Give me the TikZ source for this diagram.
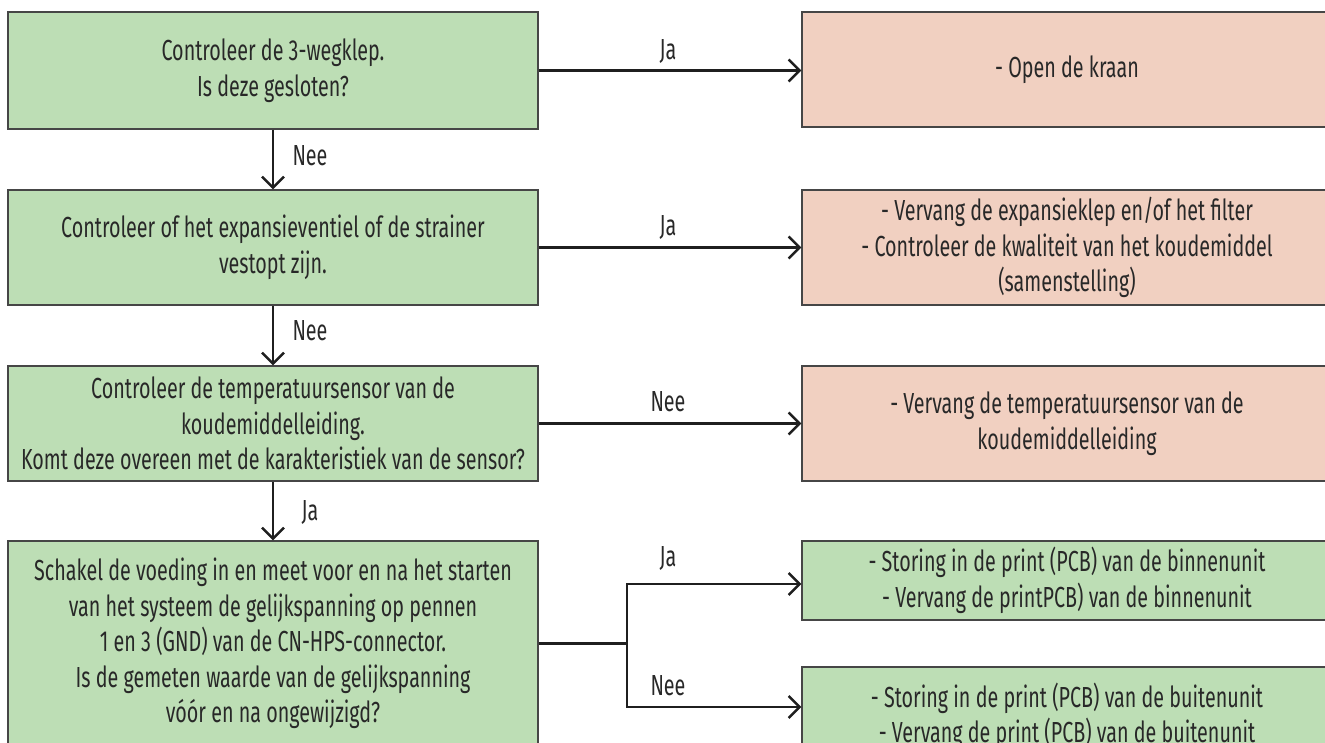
\documentclass[tikz,border=0pt]{standalone}
\usepackage{fontspec}
\setmainfont{Fira Sans}[FakeStretch=0.68]
\usetikzlibrary{arrows.meta}
\definecolor{boxgreen}{RGB}{189,222,181}
\definecolor{boxsalmon}{RGB}{241,208,193}
\definecolor{edgegray}{RGB}{70,70,70}
\definecolor{txt}{RGB}{40,40,40}
\begin{document}
\begin{tikzpicture}[x=1pt,y=-1pt,
  box/.style={draw=edgegray, line width=1.3pt, align=center, inner sep=0pt, text=txt,
              font=\fontsize{29}{35.5}\selectfont},
  greenbox/.style={box, fill=boxgreen},
  redbox/.style={box, fill=boxsalmon},
  link/.style={line width=2.4pt, draw=black!88},
  conn/.style={link, -{Straight Barb[length=11pt,width=22pt]}},
  lbl/.style={text=txt, font=\fontsize{29}{35.5}\selectfont, inner sep=0pt}
]
\useasboundingbox (0,0) rectangle (1325,742);
\clip (0,0) rectangle (1325,742);

% left column
\node[greenbox, minimum width=530pt, minimum height=117pt] (b1) at (273,70.5)
  {Controleer de 3-wegklep.\\Is deze gesloten?};
\node[greenbox, minimum width=530pt, minimum height=115pt] (b2) at (273,247.5)
  {Controleer of het expansieventiel of de strainer\\vestopt zijn.};
\node[greenbox, minimum width=530pt, minimum height=115pt] (b3) at (273,423.5)
  {Controleer de temperatuursensor van de\\koudemiddelleiding.\\Komt deze overeen met de karakteristiek van de sensor?};
\node[greenbox, minimum width=530pt, minimum height=205pt] (b4) at (273,643.5)
  {Schakel de voeding in en meet voor en na het starten\\van het systeem de gelijkspanning op pennen\\1 en 3 (GND) van de CN-HPS-connector.\\Is de gemeten waarde van de gelijkspanning\\vóór en na ongewijzigd?};

% right column
\node[redbox, minimum width=530pt, minimum height=115pt] (r1) at (1067,69.5)
  {- Open de kraan};
\node[redbox, minimum width=530pt, minimum height=115pt] (r2) at (1067,247.5)
  {- Vervang de expansieklep en/of het filter\\- Controleer de kwaliteit van het koudemiddel\\(samenstelling)};
\node[redbox, minimum width=530pt, minimum height=115pt] (r3) at (1067,423.5)
  {- Vervang de temperatuursensor van de\\koudemiddelleiding};
\node[greenbox, minimum width=530pt, minimum height=79pt] (r4a) at (1067,580.5)
  {- Storing in de print (PCB) van de binnenunit\\- Vervang de printPCB) van de binnenunit};
\node[greenbox, minimum width=530pt, minimum height=98pt] (r4b) at (1067,716)
  {- Storing in de print (PCB) van de buitenunit\\- Vervang de print (PCB) van de buitenunit};

% vertical connectors
\draw[conn] (b1.south) -- (b2.north);
\draw[conn] (b2.south) -- (b3.north);
\draw[conn] (b3.south) -- (b4.north);
\node[lbl] (l1) at (310,156) {Nee};
\node[lbl] (l2) at (310,331) {Nee};
\node[lbl] (l3) at (310,512) {Ja};

% horizontal connectors
\draw[conn] (b1.east) -- (b1.east -| r1.west);
\draw[conn] (b2.east) -- (b2.east -| r2.west);
\draw[conn] (b3.east) -- (b3.east -| r3.west);
\coordinate (fork) at (627,643.5);
\draw[link] (b4.east) -- (fork);
\draw[conn] (fork) |- ([yshift=-3.5pt]r4a.west);
\draw[conn] (fork) |- ([yshift=9pt]r4b.west);
\node[lbl] (h1) at (668,51) {Ja};
\node[lbl] (h2) at (668,227) {Ja};
\node[lbl] (h3) at (668,402) {Nee};
\node[lbl] (h4) at (668,558) {Ja};
\node[lbl] (h5) at (668,686) {Nee};
\end{tikzpicture}
\end{document}
